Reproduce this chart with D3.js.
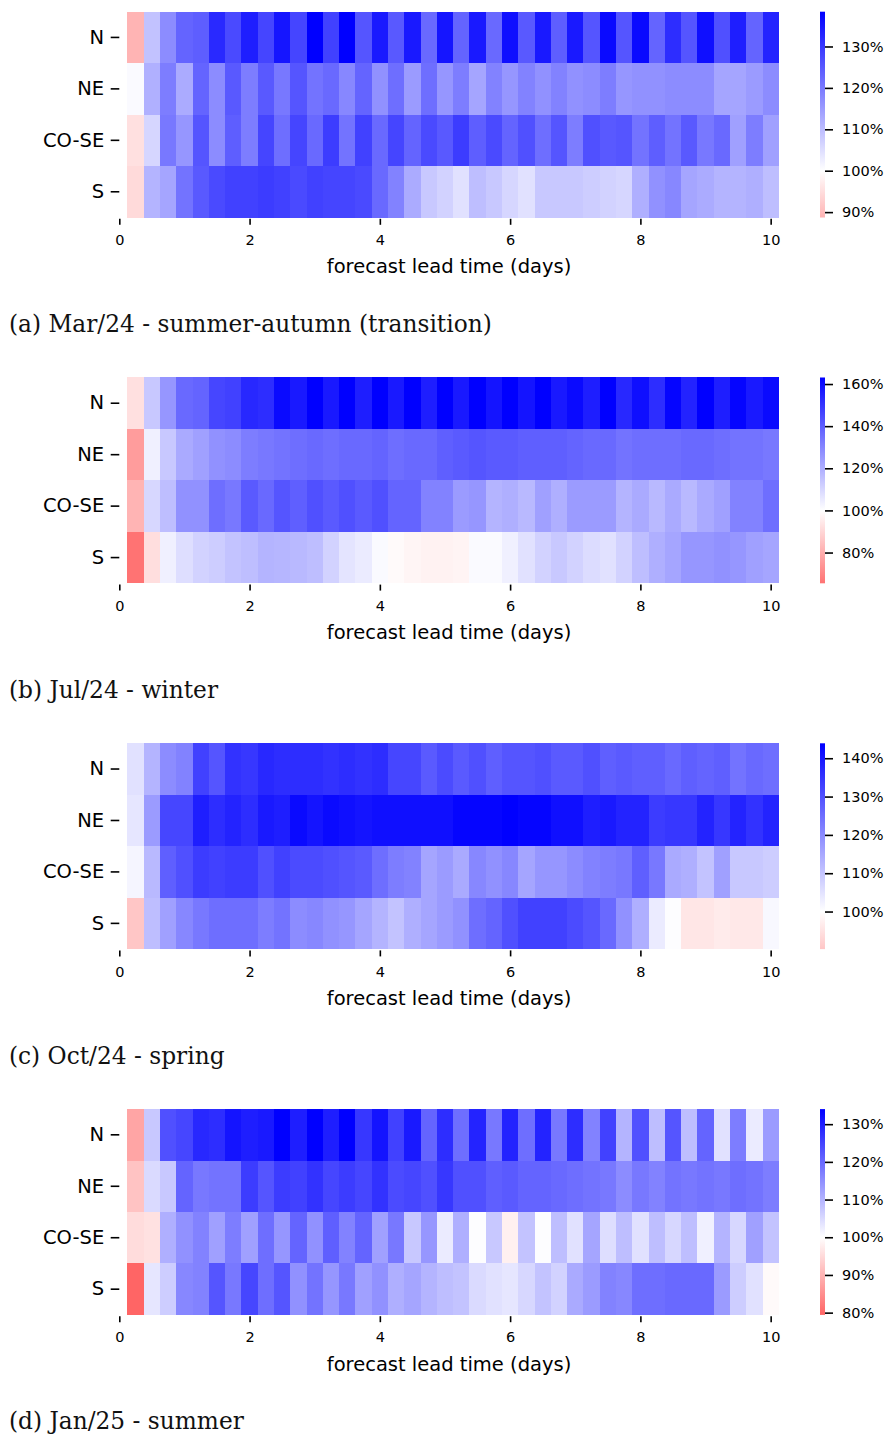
<!DOCTYPE html>
<html>
<head>
<meta charset="utf-8">
<script src="https://cdn.jsdelivr.net/npm/d3@7"></script>
<style>
  body { margin: 0; background: #fff; }
  svg { display: block; }
  .tick text { font-family: "DejaVu Sans", sans-serif; fill: #000; }
  .tick line { stroke: #000; stroke-width: 1.6; }
  .axis-label { font-family: "DejaVu Sans", sans-serif; fill: #000; }
  .caption { font-family: "DejaVu Serif", serif; fill: #111; }
</style>
</head>
<body>
<div id="chart"></div>
<script>
// regions (rows) and forecast lead times in days (columns, 6-hourly)
const regions = ["N", "NE", "CO-SE", "S"];
const leadTimes = [0.25, 0.5, 0.75, 1, 1.25, 1.5, 1.75, 2, 2.25, 2.5,
  2.75, 3, 3.25, 3.5, 3.75, 4, 4.25, 4.5, 4.75, 5,
  5.25, 5.5, 5.75, 6, 6.25, 6.5, 6.75, 7, 7.25, 7.5,
  7.75, 8, 8.25, 8.5, 8.75, 9, 9.25, 9.5, 9.75, 10];
const xTicks = [0, 2, 4, 6, 8, 10];

// (a) Mar/24
const marN = [88.7,109.2,117.3,123.4,124.2,132.3,127.2,133.9,128,135.3,128,138.4,128.6,138.4,125.6,134.6,125,134.6,122.6,135.3,123.4,134.6,122.6,136.1,125,134.6,124.2,134.6,125.6,136.9,125.6,136.9,123.4,131.6,125.6,136.1,126.4,133.9,123.4,133.1];
const marNE = [100.8,111.9,119.6,112.7,123.4,117.3,125,119.6,125,120.4,125.6,121.1,122.6,118,123.4,116.5,121.9,115,121.9,115.8,119.6,113.5,118.8,115.8,118.8,116.5,118.8,116.5,117.3,119.6,115.8,116.5,116.5,117.3,117.3,117.3,113.5,113.5,115,117.3];
const marCOSE = [95.4,106.1,120.4,115.8,125.6,117.3,124.2,119.6,128,121.9,128,122.6,129.4,121.1,128.6,122.6,128,123.4,127.2,125,129.4,124.2,127.2,123.4,126.4,121.9,125.6,119.6,126.4,125,125.6,121.1,124.2,121.1,125,120.4,122.6,114.3,119.6,114.3];
const marS = [94.4,111.3,113.5,121.1,125,127.2,128.6,128.6,129.4,128.6,127.2,128.6,128,128,127.2,122.6,118.8,112.7,108.3,106.8,104.5,109.8,108.3,106.1,104.5,108.3,108.3,108.3,107.5,106.8,106.1,112,116.5,118,113.5,112.7,111.3,111.3,112,109.8];

// (b) Jul/24
const julN = [92.4,113.6,126,137.1,138.4,145.8,147,153.2,152,160.6,156.9,163.1,156.9,163.1,155.7,163.1,156.9,163.1,155.7,163.1,156.9,163.1,158.2,163.1,158.2,163.1,156.9,160.6,155.7,163.1,153.2,159.4,151.9,161.9,154.4,163.1,155.7,161.9,156.9,160.6];
const julNE = [75.4,103.7,113.6,121,123.5,127.2,128.5,132.2,133.4,134.6,135.9,137.1,135.9,137.1,137.1,138.4,135.9,137.1,137.1,139.6,140.8,142.1,140.8,140.8,139.6,139.6,139.6,138.4,137.1,137.1,134.6,135.9,135.9,135.9,137.1,137.1,135.9,134.6,134.6,133.4];
const julCOSE = [81.4,109.9,116.1,127.2,127.2,135.9,133.4,140.8,137.1,142.1,139.6,143.3,140.8,143.3,140.8,143.3,138.4,138.4,130.9,130.9,124.7,126,118.6,119.8,117.3,123.5,119.8,124.7,124.7,124.7,118.6,121,117.3,121,117.3,121,123.5,130.9,130.9,135.9];
const julS = [65.4,91.8,103.7,108.2,111.1,112.4,114.8,116.1,118.6,118.1,117.3,116.1,111.1,106.7,104.9,101.2,98.8,97.5,96.8,96.8,97.3,101.2,101.2,103.7,107.4,111.1,113.6,111.1,108.7,107.4,111.1,116.1,119.8,122.3,126,126,127.2,126,123.5,122.3];

// (c) Oct/24
const octN = [105.2,112.9,119.8,121.5,132.7,129.3,135.3,134.4,137,136.2,136.2,136.2,135.3,136.2,135.3,136.2,131.9,131.9,128.4,131,128.4,130.1,127.5,129.3,129.3,130.1,128.4,128.4,130.1,127.5,128.4,127.5,127.5,125.8,127.5,126.7,127.5,124.1,125.8,125];
const octNE = [104.3,117.2,131.9,131.9,138.7,136.2,137.9,136.2,139.6,138.7,142.2,140.5,142.2,141.3,140.5,141.3,141.3,141.3,141.3,141.3,143,143,143,143.9,143,143,141.3,141.3,138.7,139.6,137.9,137.9,133.6,134.4,134.4,137.9,134.4,137.9,135.3,137.9];
const octCOSE = [101.7,112.1,127.5,130.1,133.6,132.7,133.6,133.6,130.1,132.7,131,131,130.1,129.3,128.4,125,122.4,121.5,115.5,117.2,114.6,120.7,118.9,120.7,115.5,118.1,118.1,119.8,121.5,122.4,123.2,127.5,123.2,114.6,113.8,110.3,116.4,109.5,109.5,108.6];
const octS = [90.2,111.2,116.4,120.7,123.2,125,125,125,122.4,124.1,119.8,120.7,118.9,118.1,115.5,112.9,110.3,113.8,115.5,117.2,118.9,125,126.7,130.1,132.7,132.7,132.7,131,129.3,125.8,118.9,113.8,103.4,100.3,95.7,95.7,96.6,96.1,96.1,101.2];

// (d) Jan/25
const janN = [88,107.3,123.3,124.7,128.7,128,131.3,130,130.7,134,130,134,130,134,126.7,131.3,125.3,130.7,120.7,128,119.3,129.3,118,129.3,119.3,129.3,118,128,116.7,125.3,110,123.3,108.7,122.7,108.7,120.7,104,117.3,102.7,113.3];
const janNE = [92,104.9,107.3,120.7,118,118.7,118.7,126,122.7,126,125.3,127.3,124.7,126,124.7,127.3,124,124.7,123.3,126.7,123.3,123.3,121.3,122,120.7,120.7,120,119.3,118.7,118,115.3,118,116.7,118.7,118,118.7,118,119.3,118.7,117.3];
const janCOSE = [95.3,96,110.7,114.7,116.7,112.7,117.3,112.7,119.3,114,120.7,114.7,121.3,116.7,120.7,112.7,118,107.3,114,102.7,110.7,100.3,107.3,98,108,100.3,108.7,104,112,104.4,108.7,104,108.7,105.3,108.7,102,110,105.3,112.7,108];
const janS = [79.4,103.3,106.7,116,116.7,122.7,118,124.7,119.3,122.7,114.7,118.7,114,118,112.7,114.7,110.7,112,110,108.7,108,104.9,104,103.3,105.3,108,106,111.3,113.3,116.7,116,119.3,119.3,120,120,120,113.3,106.7,104,99.3];

const captions = [
  "(a) Mar/24 - summer-autumn (transition)",
  "(b) Jul/24 - winter",
  "(c) Oct/24 - spring",
  "(d) Jan/25 - summer"
];
const cbarTicks = [
  [90, 100, 110, 120, 130],
  [80, 100, 120, 140, 160],
  [100, 110, 120, 130, 140],
  [80, 90, 100, 110, 120, 130]
];

const panels = [
  [marN, marNE, marCOSE, marS],
  [julN, julNE, julCOSE, julS],
  [octN, octNE, octCOSE, octS],
  [janN, janNE, janCOSE, janS]
];

const width = 886, height = 1439;
const panelStep = 365.8;
const hmTop = 11.7, hmHeight = 205.8;
const cbarX = 820, cbarW = 5;

const svg = d3.select("#chart").append("svg")
    .attr("width", width)
    .attr("height", height);
const defs = svg.append("defs");

const x = d3.scaleLinear().domain([0, 10.125]).range([119.3, 778.8]);
const y = d3.scaleBand().domain(regions).range([hmTop, hmTop + hmHeight]);
const half = 0.125; // half a 6h step, in days

panels.forEach((rows, k) => {
  const g = svg.append("g").attr("transform", `translate(0,${k * panelStep})`);

  // seaborn-like centred colormap (bwr_r, centre 100%)
  const [vmin, vmax] = d3.extent(rows.flat());
  const vrange = Math.max(vmax - 100, 100 - vmin);
  const color = d3.scaleLinear()
      .domain([100 - vrange, 100, 100 + vrange])
      .range(["#ff0000", "#ffffff", "#0000ff"]);

  const cells = rows.flatMap((vals, i) =>
    vals.map((v, j) => ({ region: regions[i], t: leadTimes[j], v: v })));

  g.append("g")
      .attr("shape-rendering", "crispEdges")
    .selectAll("rect")
    .data(cells)
    .enter().append("rect")
      .attr("x", d => x(d.t - half))
      .attr("y", d => y(d.region))
      .attr("width", d => x(d.t + half) - x(d.t - half))
      .attr("height", y.bandwidth())
      .attr("fill", d => color(d.v));

  // x axis
  const xAxis = g.append("g")
      .attr("transform", `translate(0,${hmTop + hmHeight + 1.3})`)
      .call(d3.axisBottom(x).tickValues(xTicks).tickSize(6).tickPadding(10).tickFormat(d3.format("d")));
  xAxis.select(".domain").remove();
  xAxis.selectAll("text").attr("font-size", 14.5);

  g.append("text")
      .attr("class", "axis-label")
      .attr("x", (x.range()[0] + x.range()[1]) / 2)
      .attr("y", 273.2)
      .attr("text-anchor", "middle")
      .attr("font-size", 19.5)
      .text("forecast lead time (days)");

  // y axis
  const yAxis = g.append("g")
      .attr("transform", `translate(${x(0)},0)`)
      .call(d3.axisLeft(y).tickSize(8.6).tickPadding(6.5));
  yAxis.select(".domain").remove();
  yAxis.selectAll("text").attr("font-size", 19.5);

  // colorbar
  const gid = "cbar" + k;
  const grad = defs.append("linearGradient")
      .attr("id", gid)
      .attr("x1", 0).attr("y1", 1)
      .attr("x2", 0).attr("y2", 0);
  [vmin, 100, vmax].forEach(v => {
    grad.append("stop")
        .attr("offset", (v - vmin) / (vmax - vmin))
        .attr("stop-color", color(v));
  });

  g.append("rect")
      .attr("x", cbarX)
      .attr("y", hmTop)
      .attr("width", cbarW)
      .attr("height", hmHeight)
      .attr("fill", `url(#${gid})`);

  const cy = d3.scaleLinear().domain([vmin, vmax]).range([hmTop + hmHeight, hmTop]);
  const cAxis = g.append("g")
      .attr("transform", `translate(${cbarX + cbarW},0)`)
      .call(d3.axisRight(cy).tickValues(cbarTicks[k]).tickSize(8).tickPadding(9).tickFormat(d => d + "%"));
  cAxis.select(".domain").remove();
  cAxis.selectAll("text").attr("font-size", 14.5);

  g.append("text")
      .attr("class", "caption")
      .attr("x", 9)
      .attr("y", 332)
      .attr("font-size", 20)
      .text(captions[k]);
});

// fit caption size so caption (a) spans the same width as in the figure
const first = svg.select(".caption").node();
const capSize = 20 * 483 / first.getComputedTextLength();
svg.selectAll(".caption").attr("font-size", capSize);
</script>
</body>
</html>
